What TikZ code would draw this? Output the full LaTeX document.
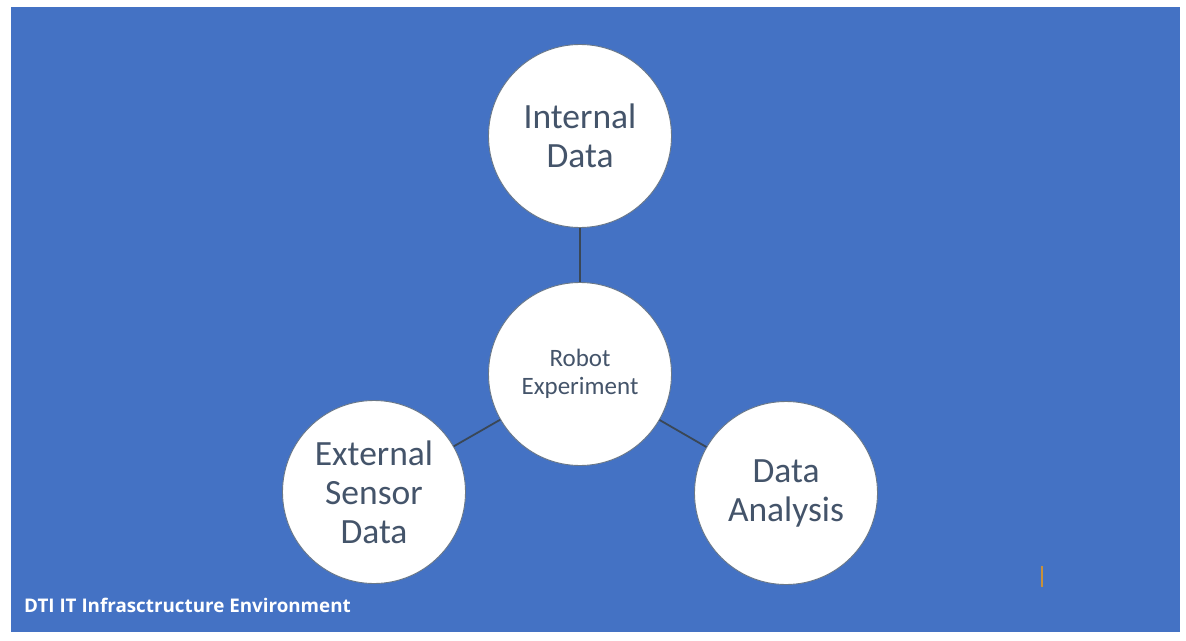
\documentclass[tikz,border=0pt]{standalone}
\usepackage{fontspec}
\setmainfont{Carlito}
\newfontfamily\labelfont{Open Sans}
\definecolor{bgblue}{HTML}{4472C4}
\definecolor{txtgray}{HTML}{44546A}
\definecolor{linegray}{HTML}{3A4756}
\definecolor{rimgray}{HTML}{6A7888}
\definecolor{tickorange}{HTML}{C8913A}
\tikzset{
  bubble/.style={circle, draw=rimgray, line width=0.9pt, fill=white, minimum size=183pt, inner sep=0pt, align=center, text=txtgray},
  bigtext/.style={font=\fontsize{35.5}{39}\selectfont},
  smalltext/.style={font=\fontsize{25}{27.4}\selectfont},
  link/.style={draw=linegray, line width=1.8pt}
}
\begin{document}
\begin{tikzpicture}[x=1pt,y=-1pt]
\useasboundingbox (0,0) rectangle (1186,640);
\fill[white] (0,0) rectangle (1186,640);
\fill[bgblue] (11,7) rectangle (1180,632);
\node[bubble, bigtext] (internal) at (580,136) {Internal\\Data};
\node[bubble, smalltext] (robot) at (580,374) {Robot\\Experiment};
\node[bubble, bigtext] (external) at (374,492) {External\\Sensor\\Data};
\node[bubble, bigtext] (analysis) at (786,493) {Data\\Analysis};
\draw[link] (internal) -- (robot);
\draw[link] (robot) -- (external);
\draw[link] (robot) -- (analysis);
\node[anchor=base west, text=white, font=\labelfont\bfseries\fontsize{18.8}{22}\selectfont, inner sep=0pt] (envlabel) at (24,612) {DTI IT Infrasctructure Environment};
\coordinate (m1) at (1042,566);
\coordinate (m2) at (1042,587);
\draw[tickorange, line width=1.5pt] (m1) -- (m2);
\end{tikzpicture}
\end{document}
